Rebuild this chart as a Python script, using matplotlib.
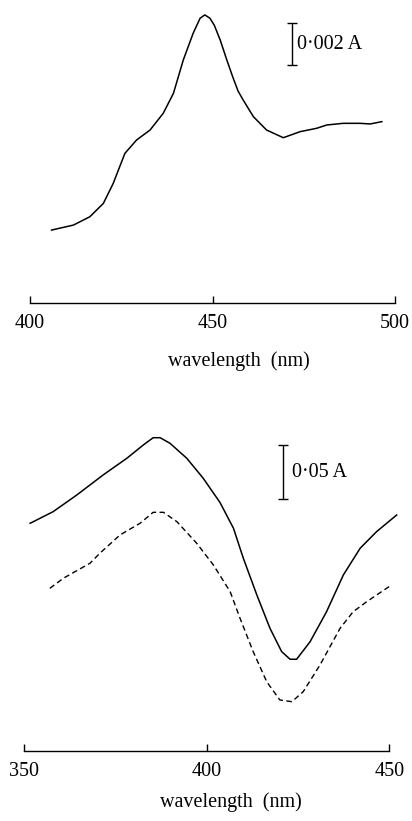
import matplotlib.pyplot as plt

# top spectrum (absorbance relative to the start of the trace)
top_wl = [405.9, 411.9, 416.4, 420.1, 422.8, 426.0, 429.2, 432.9, 436.5, 439.3,
          442.0, 444.7, 446.6, 447.9, 449.3, 450.5, 452.1, 453.9, 455.6, 457.0,
          458.4, 461.2, 464.8, 469.4, 474.0, 478.5, 481.3, 485.8, 490.4, 493.2,
          496.4]
top_abs = [0.00003, 0.00027, 0.00067, 0.00131, 0.00227, 0.00371, 0.00435, 0.00483, 0.00563, 0.00659,
           0.00819, 0.00947, 0.01019, 0.01035, 0.01019, 0.00985, 0.00915, 0.00820, 0.00735, 0.00670,
           0.00627, 0.00547, 0.00483, 0.00446, 0.00475, 0.00491, 0.00507, 0.00515, 0.00515, 0.00512,
           0.00523]

# bottom spectra
solid_wl = [351.6, 357.9, 364.4, 371.6, 378.1, 382.6, 385.3, 387.2, 389.9, 394.5,
            399.0, 403.6, 407.3, 410.0, 413.7, 417.3, 420.5, 422.8, 424.6, 428.3,
            432.8, 437.4, 442.0, 446.5, 452.0]
solid_abs = [0.1643, 0.1750, 0.1904, 0.2088, 0.2242, 0.2364, 0.2431, 0.2431, 0.2380, 0.2242,
             0.2058, 0.1835, 0.1597, 0.1321, 0.0983, 0.0676, 0.0461, 0.0391, 0.0391, 0.0553,
             0.0829, 0.1167, 0.1413, 0.1566, 0.1719]

dashed_wl = [357.0, 360.7, 368.0, 370.7, 376.2, 381.7, 385.3, 388.1, 391.8, 397.2,
             401.8, 406.4, 409.1, 412.7, 416.4, 420.0, 423.3, 426.4, 431.0, 436.5,
             440.1, 443.8, 450.2]
dashed_abs = [0.1044, 0.1137, 0.1275, 0.1367, 0.1535, 0.1643, 0.1744, 0.1744, 0.1658, 0.1460,
              0.1259, 0.1013, 0.0768, 0.0461, 0.0184, 0.0016, 0.0, 0.0092, 0.0338, 0.0676,
              0.0829, 0.0921, 0.1066]

top_ticks = [400, 450, 500]
bottom_ticks = [350, 400, 450]

plt.rcParams['font.family'] = ['Liberation Serif', 'DejaVu Serif']
FS = 14.5

W, H = 412, 821
fig = plt.figure(figsize=(W / 100, H / 100), dpi=100)


def setup_axis(ax, ticks):
    for s in ['top', 'right', 'left']:
        ax.spines[s].set_visible(False)
    ax.spines['bottom'].set_bounds(ticks[0], ticks[-1])
    ax.spines['bottom'].set_linewidth(1.0)
    ax.set_yticks([])
    ax.set_xticks(ticks)
    ax.tick_params(axis='x', direction='in', length=5, width=1.0, pad=8, labelsize=FS)


# ---- top panel ----
ax1 = fig.add_axes([30 / W, 1 - 302.7 / H, 365 / W, 297.7 / H])
ax1.plot(top_wl, top_abs, color='black', lw=1.1)
ax1.set_xlim(400, 500)
ax1.set_ylim(-0.003453, 0.010825)
setup_axis(ax1, top_ticks)
ax1.errorbar([471.7], [0.00895], yerr=[0.001], color='black', lw=1.0, capsize=3.5, capthick=1.0)
ax1.text(473.1, 0.00895, '0·002 A', va='center', ha='left', fontsize=FS)
ax1.set_xlabel('wavelength  (nm)', fontsize=FS, va='center')
ax1.xaxis.set_label_coords(0.571, -0.196)

# ---- bottom panel ----
ax2 = fig.add_axes([24.3 / W, 1 - 751 / H, 383.3 / W, 321 / H])
ax2.plot(solid_wl, solid_abs, color='black', lw=1.1)
ax2.plot(dashed_wl, dashed_abs, color='black', lw=1.0, linestyle=(0, (4, 2.5)))
ax2.set_xlim(350, 455)
ax2.set_ylim(-0.0454, 0.2502)
setup_axis(ax2, bottom_ticks)
ax2.errorbar([420.96], [0.2114], yerr=[0.025], color='black', lw=1.0, capsize=3.5, capthick=1.0)
ax2.text(423.3, 0.2114, '0·05 A', va='center', ha='left', fontsize=FS)
ax2.set_xlabel('wavelength  (nm)', fontsize=FS, va='center')
ax2.xaxis.set_label_coords(0.539, -0.158)

fig.savefig('out.png', dpi=100)
